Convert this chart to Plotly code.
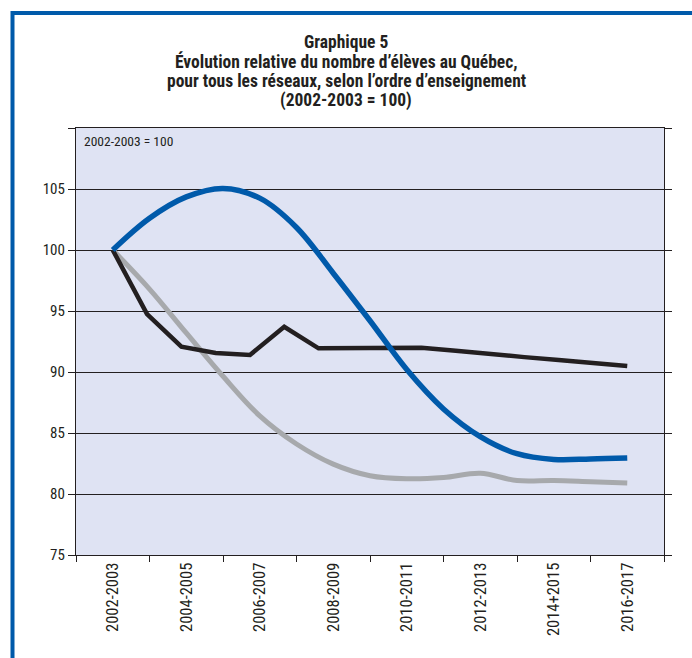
import plotly.graph_objects as go

# School years shown on the category axis (one label every two years)
year_labels = ["2002-2003", "2004-2005", "2006-2007", "2008-2009",
               "2010-2011", "2012-2013", "2014+2015", "2016-2017"]
label_pos = [0, 2, 4, 6, 8, 10, 12, 14]

# Annual series, 2002-2003 to 2016-2017 (index 0..14), base 100
year_idx = list(range(15))
blue_vals = [100.0, 102.6, 104.35, 105.05, 104.25, 101.85, 98.1, 94.2,
             90.2, 86.97, 84.7, 83.3, 82.83, 82.87, 82.95]
grey_vals = [100.0, 96.8, 93.2, 89.65, 86.4, 84.1, 82.45, 81.5,
             81.25, 81.35, 81.7, 81.1, 81.1, 81.0, 80.9]

# Series drawn with 16 points over the same span
black_idx = list(range(16))
black_vals = [100.0, 94.75, 92.07, 91.56, 91.4, 93.7, 91.94, 91.93,
              91.93, 91.98, 91.75, 91.45, 91.22, 90.98, 90.73, 90.49]

y_ticks = [75, 80, 85, 90, 95, 100, 105, 110]
y_text = ["75", "80", "85", "90", "95", "100", "105", ""]

title_lines = ["Graphique 5",
               "Évolution relative du nombre d’élèves au Québec,",
               "pour tous les réseaux, selon l’ordre d’enseignement",
               "(2002-2003 = 100)"]

FONT = "Roboto Condensed, Liberation Sans Narrow, DejaVu Sans Condensed, sans-serif"
BLUE = "#005aaa"
BLACK = "#231f20"
GREY = "#a7a9ac"

# plot area in pixels (used to place the title lines and the frame)
L, R, T, B = 76, 664, 128, 555
W, H = R - L, B - T


def px_x(px):
    return (px - L) / W


def px_y(py):
    return (B - py) / H


fig = go.Figure()
fig.add_trace(go.Scatter(x=year_idx, y=grey_vals, mode="lines",
                         line=dict(color=GREY, width=5, shape="spline", smoothing=1),
                         xaxis="x", yaxis="y", hoverinfo="skip"))
fig.add_trace(go.Scatter(x=black_idx, y=black_vals, mode="lines",
                         line=dict(color=BLACK, width=4.5),
                         xaxis="x2", yaxis="y", hoverinfo="skip"))
fig.add_trace(go.Scatter(x=year_idx, y=blue_vals, mode="lines",
                         line=dict(color=BLUE, width=5.5, shape="spline", smoothing=1),
                         xaxis="x3", yaxis="y", hoverinfo="skip"))

annotations = [dict(
    text="2002-2003 = 100", xref="paper", yref="paper",
    x=0.011, y=0.992, xanchor="left", yanchor="top", showarrow=False,
    font=dict(family=FONT, size=13.5, color=BLACK),
)]
for line, cy in zip(title_lines, [41.5, 61.5, 81, 100.5]):
    annotations.append(dict(
        text=f"<b>{line}</b>", xref="paper", yref="paper",
        x=px_x(346), y=px_y(cy), xanchor="center", yanchor="middle",
        showarrow=False, font=dict(family=FONT, size=17.5, color=BLACK),
    ))

pad16 = 15 / 14
fig.update_layout(
    width=692, height=658,
    margin=dict(l=L, r=692 - R, t=T, b=658 - B),
    paper_bgcolor="white",
    plot_bgcolor="#dfe3f3",
    showlegend=False,
    font=dict(family=FONT, color=BLACK, size=14),
    xaxis=dict(
        range=[-1, 15], tickmode="array", tickvals=label_pos, ticktext=year_labels,
        tickangle=-90, ticks="", showgrid=False, zeroline=False,
        showline=True, linecolor=BLACK, linewidth=1.2, mirror=True,
        tickfont=dict(family=FONT, size=16.5, color=BLACK),
        minor=dict(tickmode="linear", tick0=-1, dtick=2, ticks="outside",
                   ticklen=6, tickcolor=BLACK, tickwidth=1.2, showgrid=False),
    ),
    xaxis2=dict(range=[-pad16, 15 + pad16], overlaying="x", visible=False),
    xaxis3=dict(range=[-1, 15], overlaying="x", visible=False),
    yaxis=dict(
        range=[75, 110], tickmode="array", tickvals=y_ticks, ticktext=y_text,
        ticks="outside", ticklen=7, tickcolor=BLACK, tickwidth=1.2,
        showgrid=True, gridcolor=BLACK, gridwidth=1.3, zeroline=False,
        showline=True, linecolor=BLACK, linewidth=1.2, mirror="ticks",
        tickfont=dict(family=FONT, size=15, color=BLACK),
    ),
    annotations=annotations,
    shapes=[
        # blue frame around the figure (top and left edges)
        dict(type="line", xref="paper", yref="paper",
             x0=px_x(12.5), x1=px_x(700), y0=px_y(13), y1=px_y(13),
             line=dict(color=BLUE, width=4)),
        dict(type="line", xref="paper", yref="paper",
             x0=px_x(12.5), x1=px_x(12.5), y0=px_y(11), y1=px_y(670),
             line=dict(color=BLUE, width=4)),
    ],
)

fig.write_html("out.html")
